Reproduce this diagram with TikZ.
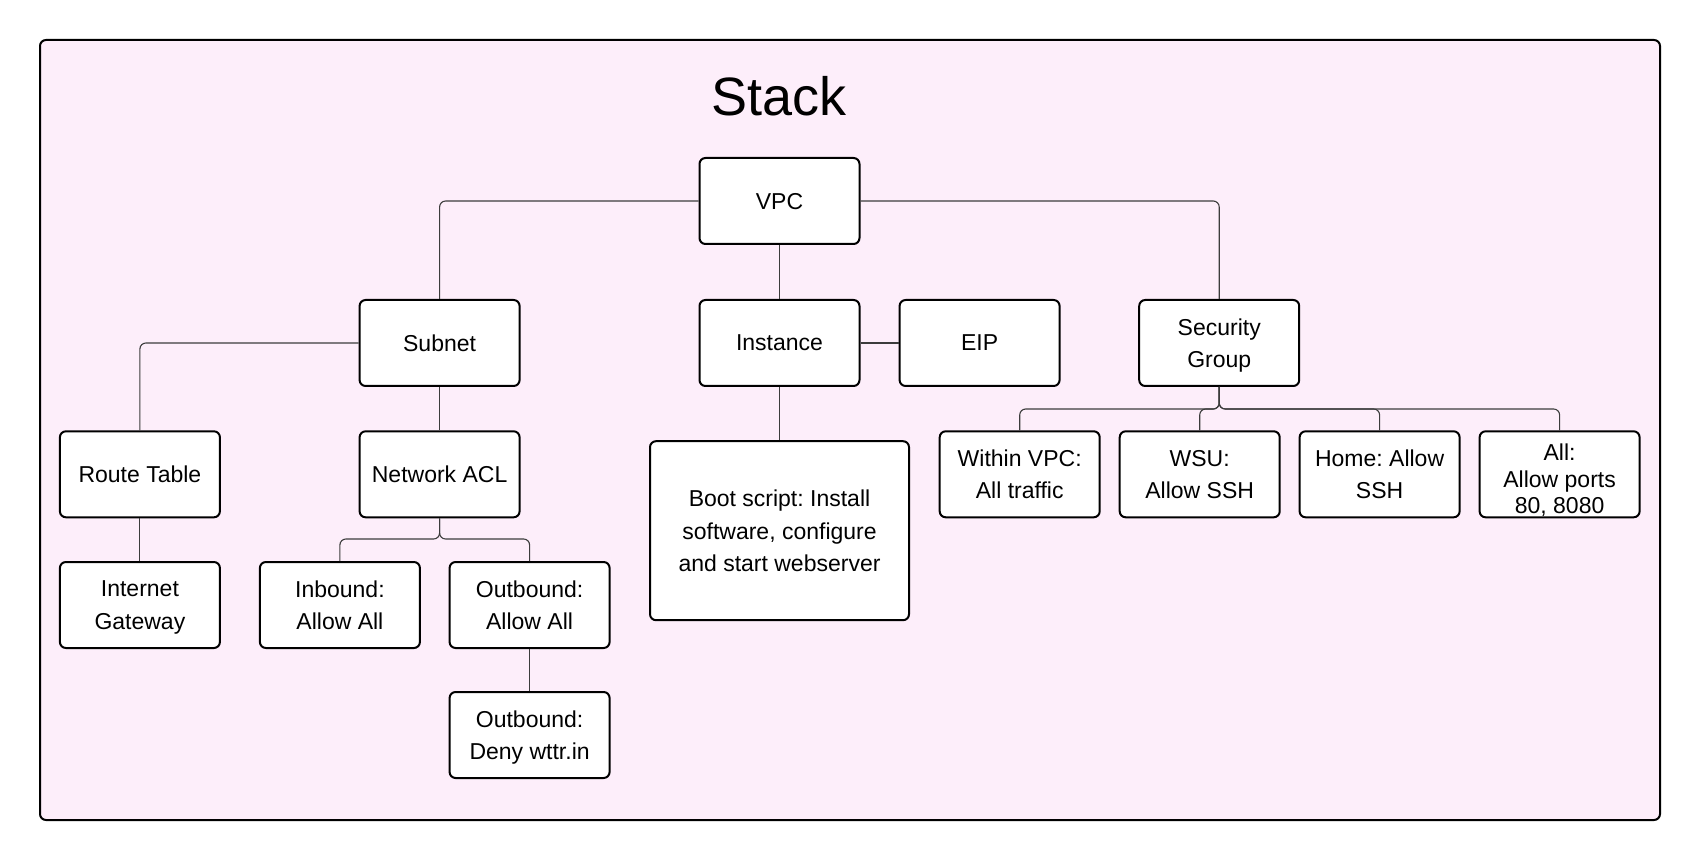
\documentclass[tikz,border=0pt]{standalone}
\usepackage{fontspec}
\setmainfont{Liberation Sans}
\usetikzlibrary{positioning}
\definecolor{stackpink}{HTML}{FDEEFA}
\definecolor{wiregray}{HTML}{3C3C3C}
\frenchspacing

\begin{document}
\begin{tikzpicture}[x=0.5pt, y=-0.5pt,
  box/.style={draw, line width=1pt, rounded corners=3pt, fill=white,
    minimum width=80pt, minimum height=43pt, align=center, text depth=0pt,
    font=\fontsize{11.5}{16.2}\selectfont},
  wire/.style={draw=wiregray, line width=0.55pt, rounded corners=3pt}]
\useasboundingbox (0,0) rectangle (1700,860);
\draw[line width=1pt, fill=stackpink, rounded corners=3pt] (40,40) rectangle (1660,820);
\node (stack) [anchor=base] at (779,116) {\fontsize{27}{30}\selectfont Stack};
% top row
\node (vpc)[box] at (779.5,201) {VPC};
\node (subnet)[box] at (439.6,343) {Subnet};
\node (instance)[box] at (779.5,343) {Instance};
\node (eip)[box] at (979.6,343) {EIP};
\node (secgroup)[box] at (1219.2,343) {Security\\Group};
% subnet side
\node (routetable)[box] at (139.9,474.3) {Route Table};
\node (acl)[box] at (439.6,474.3) {Network ACL};
\node (igw)[box] at (139.9,605) {Internet\\Gateway};
\node (inbound)[box] at (339.9,605) {Inbound:\\Allow All};
\node (outallow)[box] at (529.6,605) {Outbound:\\Allow All};
\node (outdeny)[box] at (529.6,735) {Outbound:\\Deny wttr.in};
% instance side
\node (boot)[box, minimum width=129.5pt, minimum height=89.5pt] at (779.5,530.7) {Boot script: Install\\software, configure\\and start webserver};
% security group rules
\node (withinvpc)[box] at (1019.7,474.3) {Within VPC:\\All traffic};
\node (wsu)[box] at (1199.7,474.3) {WSU:\\Allow SSH};
\node (home)[box] at (1379.6,474.3) {Home: Allow\\SSH};
\node (allports)[box, font=\fontsize{11.5}{13.3}\selectfont, text height=39.5pt, inner ysep=1pt] at (1559.6,474.3) {All:\\Allow ports\\80, 8080};
\coordinate (aclsplit) at (439.6,539);
\coordinate (sgsplit) at (1219.2,409);
\draw[wire] (vpc.west) -| (subnet.north);
\draw[wire] (vpc.east) -| (secgroup.north);
\draw[wire] (vpc) -- (instance);
\draw[wire] (instance) -- (eip);
\draw[wire] (instance) -- (boot);
\draw[wire] (subnet.west) -| (routetable.north);
\draw[wire] (subnet) -- (acl);
\draw[wire] (routetable) -- (igw);
\draw[wire] (acl.south) -- (aclsplit) -| (inbound.north);
\draw[wire] (acl.south) -- (aclsplit) -| (outallow.north);
\draw[wire] (outallow) -- (outdeny);
\draw[wire] (secgroup.south) -- (sgsplit) -| (withinvpc.north);
\draw[wire] (secgroup.south) -- (sgsplit) -| (wsu.north);
\draw[wire] (secgroup.south) -- (sgsplit) -| (home.north);
\draw[wire] (secgroup.south) -- (sgsplit) -| (allports.north);
\end{tikzpicture}
\end{document}
